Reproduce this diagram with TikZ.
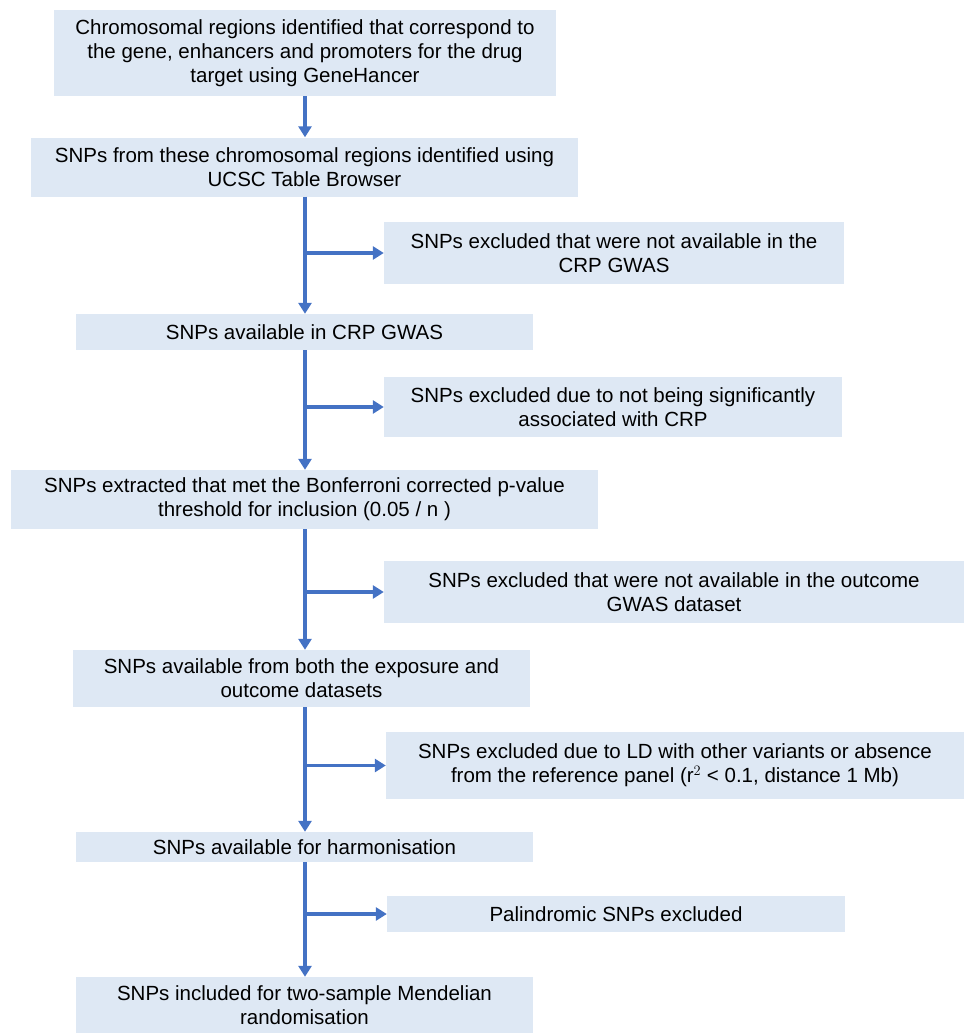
\documentclass[tikz,border=0pt]{standalone}
\usepackage{fontspec}
\setmainfont{Liberation Sans}
\usetikzlibrary{arrows.meta}
\definecolor{boxfill}{HTML}{DEE8F4}
\definecolor{arrblue}{HTML}{4472C4}
\tikzset{
  flowbox/.style={fill=boxfill, inner sep=0pt, align=center,
    font=\fontsize{20.5}{24}\selectfont, text=black},
  arr/.style={draw=arrblue, line width=3.5pt,
    -{Triangle[width=13pt,length=11pt]}},
}
\begin{document}
\begin{tikzpicture}[x=1pt,y=-1pt]
\useasboundingbox (0,0) rectangle (964,1033);
\coordinate (t) at (305,0);
% main column
\node[flowbox, minimum width=502, minimum height=86] (b1) at (305,53)
  {Chromosomal regions identified that correspond to\\the gene, enhancers and promoters for the drug\\target using GeneHancer};
\node[flowbox, minimum width=547, minimum height=59] (b2) at (304.5,167)
  {SNPs from these chromosomal regions identified using\\UCSC Table Browser};
\node[flowbox, minimum width=457, minimum height=36] (b3) at (304.5,332)
  {SNPs available in CRP GWAS};
\node[flowbox, minimum width=587, minimum height=59] (b4) at (304.5,499.5)
  {SNPs extracted that met the Bonferroni corrected p-value\\threshold for inclusion (0.05 / n )};
\node[flowbox, minimum width=457, minimum height=57] (b5) at (301.5,678.5)
  {SNPs available from both the exposure and\\outcome datasets};
\node[flowbox, minimum width=457, minimum height=30] (b6) at (304.5,847)
  {SNPs available for harmonisation};
\node[flowbox, minimum width=457, minimum height=56] (b7) at (304.5,1005)
  {SNPs included for two-sample Mendelian\\randomisation};
% side boxes
\node[flowbox, minimum width=460, minimum height=62] (sA) at (614,253)
  {SNPs excluded that were not available in the\\CRP GWAS};
\node[flowbox, minimum width=458, minimum height=60] (sB) at (613,407)
  {SNPs excluded due to not being significantly\\associated with CRP};
\node[flowbox, minimum width=580, minimum height=62] (sC) at (674,592)
  {SNPs excluded that were not available in the outcome\\GWAS dataset};
\node[flowbox, minimum width=578, minimum height=67] (sD) at (675,765.5)
  {SNPs excluded due to LD with other variants or absence\\from the reference panel (r$^{2}$ < 0.1, distance 1 Mb)};
\node[flowbox, minimum width=458, minimum height=36] (sE) at (616,914)
  {Palindromic SNPs excluded};
% connectors
\draw[arr] (b1.south -| t) -- (b2.north -| t);
\draw[arr] (b2.south -| t) -- (b3.north -| t);
\draw[arr] (b3.south -| t) -- (b4.north -| t);
\draw[arr] (b4.south -| t) -- (b5.north -| t);
\draw[arr] (b5.south -| t) -- (b6.north -| t);
\draw[arr] (b6.south -| t) -- (b7.north -| t);
\draw[arr] (sA.west -| t) -- (sA.west);
\draw[arr] (sB.west -| t) -- (sB.west);
\draw[arr] (sC.west -| t) -- (sC.west);
\draw[arr] (sD.west -| t) -- (sD.west);
\draw[arr] (sE.west -| t) -- (sE.west);
\end{tikzpicture}
\end{document}
